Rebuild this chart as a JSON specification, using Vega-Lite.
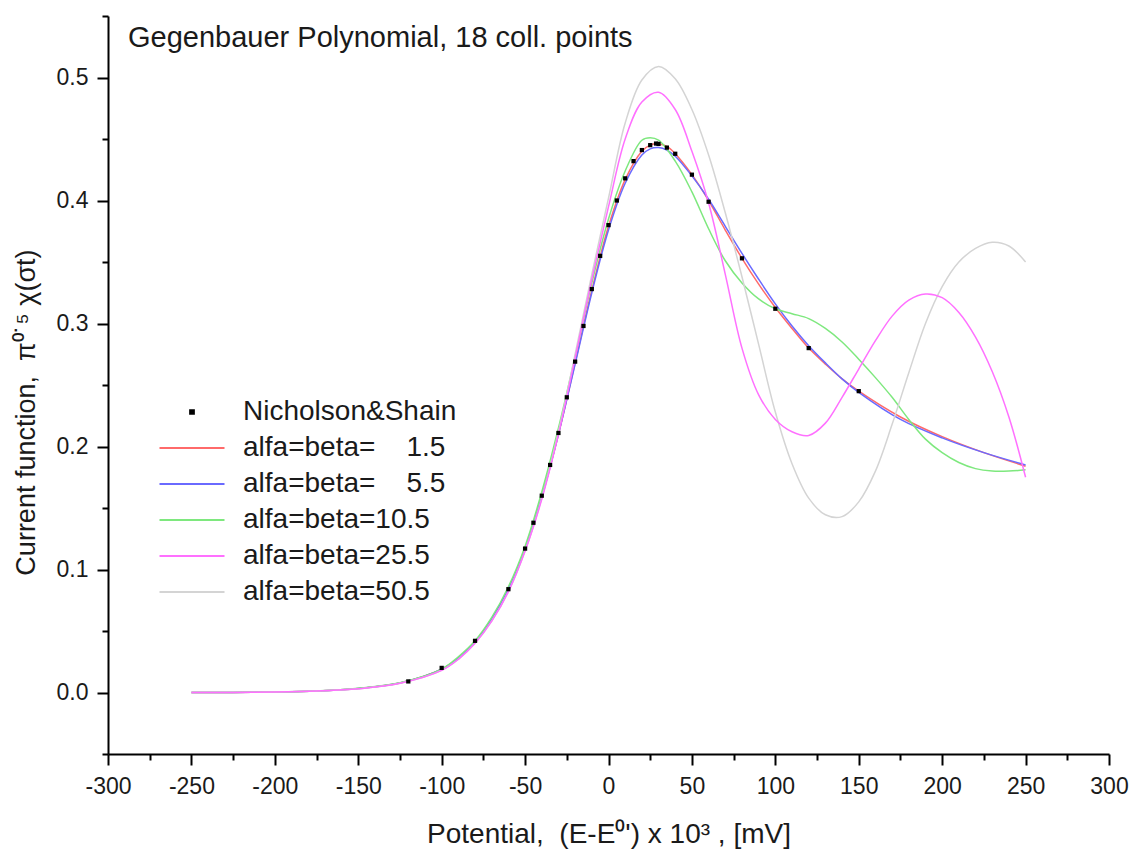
{
  "$schema": "https://vega.github.io/schema/vega-lite/v6.json",
  "width": 1001,
  "height": 738,
  "autosize": "none",
  "padding": {"left": 108, "top": 16, "right": 23, "bottom": 96},
  "background": "white",
  "view": {"stroke": null},
  "config": {"font": "Liberation Sans"},
  "datasets": {
    "ns": [
      {"series": "Nicholson&Shain", "x": -120, "y": 0.009},
      {"series": "Nicholson&Shain", "x": -100, "y": 0.020},
      {"series": "Nicholson&Shain", "x": -80, "y": 0.042},
      {"series": "Nicholson&Shain", "x": -60, "y": 0.084},
      {"series": "Nicholson&Shain", "x": -50, "y": 0.117},
      {"series": "Nicholson&Shain", "x": -45, "y": 0.138},
      {"series": "Nicholson&Shain", "x": -40, "y": 0.160},
      {"series": "Nicholson&Shain", "x": -35, "y": 0.185},
      {"series": "Nicholson&Shain", "x": -30, "y": 0.211},
      {"series": "Nicholson&Shain", "x": -25, "y": 0.240},
      {"series": "Nicholson&Shain", "x": -20, "y": 0.269},
      {"series": "Nicholson&Shain", "x": -15, "y": 0.298},
      {"series": "Nicholson&Shain", "x": -10, "y": 0.328},
      {"series": "Nicholson&Shain", "x": -5, "y": 0.355},
      {"series": "Nicholson&Shain", "x": 0, "y": 0.380},
      {"series": "Nicholson&Shain", "x": 5, "y": 0.400},
      {"series": "Nicholson&Shain", "x": 10, "y": 0.418},
      {"series": "Nicholson&Shain", "x": 15, "y": 0.432},
      {"series": "Nicholson&Shain", "x": 20, "y": 0.441},
      {"series": "Nicholson&Shain", "x": 25, "y": 0.445},
      {"series": "Nicholson&Shain", "x": 28.5, "y": 0.4463},
      {"series": "Nicholson&Shain", "x": 30, "y": 0.446},
      {"series": "Nicholson&Shain", "x": 35, "y": 0.443},
      {"series": "Nicholson&Shain", "x": 40, "y": 0.438},
      {"series": "Nicholson&Shain", "x": 50, "y": 0.421},
      {"series": "Nicholson&Shain", "x": 60, "y": 0.399},
      {"series": "Nicholson&Shain", "x": 80, "y": 0.353},
      {"series": "Nicholson&Shain", "x": 100, "y": 0.312},
      {"series": "Nicholson&Shain", "x": 120, "y": 0.280},
      {"series": "Nicholson&Shain", "x": 150, "y": 0.245}
    ],
    "curves": [
      {"series": "alfa=beta=  1.5", "x": -250, "y": 0},
      {"series": "alfa=beta=  1.5", "x": -225, "y": 0.0001},
      {"series": "alfa=beta=  1.5", "x": -200, "y": 0.0004},
      {"series": "alfa=beta=  1.5", "x": -175, "y": 0.0012},
      {"series": "alfa=beta=  1.5", "x": -150, "y": 0.0033},
      {"series": "alfa=beta=  1.5", "x": -125, "y": 0.0078},
      {"series": "alfa=beta=  1.5", "x": -100, "y": 0.019},
      {"series": "alfa=beta=  1.5", "x": -90, "y": 0.028},
      {"series": "alfa=beta=  1.5", "x": -80, "y": 0.041},
      {"series": "alfa=beta=  1.5", "x": -70, "y": 0.060},
      {"series": "alfa=beta=  1.5", "x": -60, "y": 0.084},
      {"series": "alfa=beta=  1.5", "x": -50, "y": 0.116},
      {"series": "alfa=beta=  1.5", "x": -40, "y": 0.159},
      {"series": "alfa=beta=  1.5", "x": -30, "y": 0.210},
      {"series": "alfa=beta=  1.5", "x": -20, "y": 0.268},
      {"series": "alfa=beta=  1.5", "x": -10, "y": 0.327},
      {"series": "alfa=beta=  1.5", "x": 0, "y": 0.379},
      {"series": "alfa=beta=  1.5", "x": 10, "y": 0.417},
      {"series": "alfa=beta=  1.5", "x": 20, "y": 0.440},
      {"series": "alfa=beta=  1.5", "x": 25, "y": 0.445},
      {"series": "alfa=beta=  1.5", "x": 30, "y": 0.446},
      {"series": "alfa=beta=  1.5", "x": 35, "y": 0.444},
      {"series": "alfa=beta=  1.5", "x": 40, "y": 0.438},
      {"series": "alfa=beta=  1.5", "x": 50, "y": 0.421},
      {"series": "alfa=beta=  1.5", "x": 60, "y": 0.400},
      {"series": "alfa=beta=  1.5", "x": 70, "y": 0.376},
      {"series": "alfa=beta=  1.5", "x": 80, "y": 0.353},
      {"series": "alfa=beta=  1.5", "x": 90, "y": 0.332},
      {"series": "alfa=beta=  1.5", "x": 100, "y": 0.313},
      {"series": "alfa=beta=  1.5", "x": 110, "y": 0.296},
      {"series": "alfa=beta=  1.5", "x": 120, "y": 0.280},
      {"series": "alfa=beta=  1.5", "x": 130, "y": 0.267},
      {"series": "alfa=beta=  1.5", "x": 140, "y": 0.255},
      {"series": "alfa=beta=  1.5", "x": 150, "y": 0.245},
      {"series": "alfa=beta=  1.5", "x": 175, "y": 0.224},
      {"series": "alfa=beta=  1.5", "x": 200, "y": 0.208},
      {"series": "alfa=beta=  1.5", "x": 225, "y": 0.195},
      {"series": "alfa=beta=  1.5", "x": 250, "y": 0.184},

      {"series": "alfa=beta=  5.5", "x": -250, "y": 0},
      {"series": "alfa=beta=  5.5", "x": -225, "y": 0.0001},
      {"series": "alfa=beta=  5.5", "x": -200, "y": 0.0004},
      {"series": "alfa=beta=  5.5", "x": -175, "y": 0.0012},
      {"series": "alfa=beta=  5.5", "x": -150, "y": 0.0033},
      {"series": "alfa=beta=  5.5", "x": -125, "y": 0.0078},
      {"series": "alfa=beta=  5.5", "x": -100, "y": 0.019},
      {"series": "alfa=beta=  5.5", "x": -90, "y": 0.028},
      {"series": "alfa=beta=  5.5", "x": -80, "y": 0.041},
      {"series": "alfa=beta=  5.5", "x": -70, "y": 0.060},
      {"series": "alfa=beta=  5.5", "x": -60, "y": 0.084},
      {"series": "alfa=beta=  5.5", "x": -50, "y": 0.116},
      {"series": "alfa=beta=  5.5", "x": -40, "y": 0.159},
      {"series": "alfa=beta=  5.5", "x": -30, "y": 0.210},
      {"series": "alfa=beta=  5.5", "x": -20, "y": 0.267},
      {"series": "alfa=beta=  5.5", "x": -10, "y": 0.325},
      {"series": "alfa=beta=  5.5", "x": 0, "y": 0.376},
      {"series": "alfa=beta=  5.5", "x": 10, "y": 0.414},
      {"series": "alfa=beta=  5.5", "x": 20, "y": 0.437},
      {"series": "alfa=beta=  5.5", "x": 25, "y": 0.442},
      {"series": "alfa=beta=  5.5", "x": 30, "y": 0.443},
      {"series": "alfa=beta=  5.5", "x": 35, "y": 0.441},
      {"series": "alfa=beta=  5.5", "x": 40, "y": 0.436},
      {"series": "alfa=beta=  5.5", "x": 50, "y": 0.420},
      {"series": "alfa=beta=  5.5", "x": 60, "y": 0.401},
      {"series": "alfa=beta=  5.5", "x": 70, "y": 0.379},
      {"series": "alfa=beta=  5.5", "x": 80, "y": 0.357},
      {"series": "alfa=beta=  5.5", "x": 90, "y": 0.336},
      {"series": "alfa=beta=  5.5", "x": 100, "y": 0.316},
      {"series": "alfa=beta=  5.5", "x": 110, "y": 0.298},
      {"series": "alfa=beta=  5.5", "x": 120, "y": 0.282},
      {"series": "alfa=beta=  5.5", "x": 130, "y": 0.268},
      {"series": "alfa=beta=  5.5", "x": 140, "y": 0.255},
      {"series": "alfa=beta=  5.5", "x": 150, "y": 0.244},
      {"series": "alfa=beta=  5.5", "x": 175, "y": 0.222},
      {"series": "alfa=beta=  5.5", "x": 200, "y": 0.207},
      {"series": "alfa=beta=  5.5", "x": 225, "y": 0.195},
      {"series": "alfa=beta=  5.5", "x": 250, "y": 0.185},

      {"series": "alfa=beta=10.5", "x": -250, "y": 0},
      {"series": "alfa=beta=10.5", "x": -225, "y": 0.0001},
      {"series": "alfa=beta=10.5", "x": -200, "y": 0.0004},
      {"series": "alfa=beta=10.5", "x": -175, "y": 0.0013},
      {"series": "alfa=beta=10.5", "x": -150, "y": 0.0035},
      {"series": "alfa=beta=10.5", "x": -125, "y": 0.008},
      {"series": "alfa=beta=10.5", "x": -100, "y": 0.019},
      {"series": "alfa=beta=10.5", "x": -90, "y": 0.029},
      {"series": "alfa=beta=10.5", "x": -80, "y": 0.042},
      {"series": "alfa=beta=10.5", "x": -70, "y": 0.061},
      {"series": "alfa=beta=10.5", "x": -60, "y": 0.086},
      {"series": "alfa=beta=10.5", "x": -50, "y": 0.119},
      {"series": "alfa=beta=10.5", "x": -40, "y": 0.163},
      {"series": "alfa=beta=10.5", "x": -30, "y": 0.215},
      {"series": "alfa=beta=10.5", "x": -20, "y": 0.273},
      {"series": "alfa=beta=10.5", "x": -10, "y": 0.333},
      {"series": "alfa=beta=10.5", "x": 0, "y": 0.385},
      {"series": "alfa=beta=10.5", "x": 10, "y": 0.424},
      {"series": "alfa=beta=10.5", "x": 20, "y": 0.449},
      {"series": "alfa=beta=10.5", "x": 25, "y": 0.451},
      {"series": "alfa=beta=10.5", "x": 30, "y": 0.449},
      {"series": "alfa=beta=10.5", "x": 40, "y": 0.432},
      {"series": "alfa=beta=10.5", "x": 50, "y": 0.407},
      {"series": "alfa=beta=10.5", "x": 60, "y": 0.377},
      {"series": "alfa=beta=10.5", "x": 70, "y": 0.351},
      {"series": "alfa=beta=10.5", "x": 80, "y": 0.333},
      {"series": "alfa=beta=10.5", "x": 90, "y": 0.320},
      {"series": "alfa=beta=10.5", "x": 100, "y": 0.312},
      {"series": "alfa=beta=10.5", "x": 110, "y": 0.308},
      {"series": "alfa=beta=10.5", "x": 120, "y": 0.304},
      {"series": "alfa=beta=10.5", "x": 130, "y": 0.296},
      {"series": "alfa=beta=10.5", "x": 140, "y": 0.285},
      {"series": "alfa=beta=10.5", "x": 150, "y": 0.271},
      {"series": "alfa=beta=10.5", "x": 160, "y": 0.256},
      {"series": "alfa=beta=10.5", "x": 170, "y": 0.240},
      {"series": "alfa=beta=10.5", "x": 180, "y": 0.222},
      {"series": "alfa=beta=10.5", "x": 190, "y": 0.206},
      {"series": "alfa=beta=10.5", "x": 200, "y": 0.195},
      {"series": "alfa=beta=10.5", "x": 210, "y": 0.187},
      {"series": "alfa=beta=10.5", "x": 220, "y": 0.182},
      {"series": "alfa=beta=10.5", "x": 230, "y": 0.180},
      {"series": "alfa=beta=10.5", "x": 240, "y": 0.180},
      {"series": "alfa=beta=10.5", "x": 250, "y": 0.181},

      {"series": "alfa=beta=50.5", "x": -250, "y": 0},
      {"series": "alfa=beta=50.5", "x": -225, "y": 0.0001},
      {"series": "alfa=beta=50.5", "x": -200, "y": 0.0004},
      {"series": "alfa=beta=50.5", "x": -175, "y": 0.0012},
      {"series": "alfa=beta=50.5", "x": -150, "y": 0.003},
      {"series": "alfa=beta=50.5", "x": -125, "y": 0.0075},
      {"series": "alfa=beta=50.5", "x": -100, "y": 0.018},
      {"series": "alfa=beta=50.5", "x": -90, "y": 0.027},
      {"series": "alfa=beta=50.5", "x": -80, "y": 0.040},
      {"series": "alfa=beta=50.5", "x": -70, "y": 0.058},
      {"series": "alfa=beta=50.5", "x": -60, "y": 0.082},
      {"series": "alfa=beta=50.5", "x": -50, "y": 0.115},
      {"series": "alfa=beta=50.5", "x": -40, "y": 0.158},
      {"series": "alfa=beta=50.5", "x": -30, "y": 0.212},
      {"series": "alfa=beta=50.5", "x": -20, "y": 0.275},
      {"series": "alfa=beta=50.5", "x": -10, "y": 0.340},
      {"series": "alfa=beta=50.5", "x": 0, "y": 0.402},
      {"series": "alfa=beta=50.5", "x": 10, "y": 0.463},
      {"series": "alfa=beta=50.5", "x": 20, "y": 0.498},
      {"series": "alfa=beta=50.5", "x": 30, "y": 0.509},
      {"series": "alfa=beta=50.5", "x": 40, "y": 0.499},
      {"series": "alfa=beta=50.5", "x": 50, "y": 0.474},
      {"series": "alfa=beta=50.5", "x": 60, "y": 0.437},
      {"series": "alfa=beta=50.5", "x": 70, "y": 0.390},
      {"series": "alfa=beta=50.5", "x": 80, "y": 0.338},
      {"series": "alfa=beta=50.5", "x": 90, "y": 0.283},
      {"series": "alfa=beta=50.5", "x": 100, "y": 0.228},
      {"series": "alfa=beta=50.5", "x": 110, "y": 0.186},
      {"series": "alfa=beta=50.5", "x": 120, "y": 0.158},
      {"series": "alfa=beta=50.5", "x": 130, "y": 0.1445},
      {"series": "alfa=beta=50.5", "x": 140, "y": 0.143},
      {"series": "alfa=beta=50.5", "x": 150, "y": 0.155},
      {"series": "alfa=beta=50.5", "x": 160, "y": 0.180},
      {"series": "alfa=beta=50.5", "x": 170, "y": 0.218},
      {"series": "alfa=beta=50.5", "x": 180, "y": 0.260},
      {"series": "alfa=beta=50.5", "x": 190, "y": 0.300},
      {"series": "alfa=beta=50.5", "x": 200, "y": 0.330},
      {"series": "alfa=beta=50.5", "x": 210, "y": 0.350},
      {"series": "alfa=beta=50.5", "x": 220, "y": 0.361},
      {"series": "alfa=beta=50.5", "x": 230, "y": 0.366},
      {"series": "alfa=beta=50.5", "x": 240, "y": 0.363},
      {"series": "alfa=beta=50.5", "x": 250, "y": 0.350},

      {"series": "alfa=beta=25.5", "x": -250, "y": 0},
      {"series": "alfa=beta=25.5", "x": -225, "y": 0.0001},
      {"series": "alfa=beta=25.5", "x": -200, "y": 0.0004},
      {"series": "alfa=beta=25.5", "x": -175, "y": 0.0012},
      {"series": "alfa=beta=25.5", "x": -150, "y": 0.003},
      {"series": "alfa=beta=25.5", "x": -125, "y": 0.0075},
      {"series": "alfa=beta=25.5", "x": -100, "y": 0.018},
      {"series": "alfa=beta=25.5", "x": -90, "y": 0.027},
      {"series": "alfa=beta=25.5", "x": -80, "y": 0.040},
      {"series": "alfa=beta=25.5", "x": -70, "y": 0.058},
      {"series": "alfa=beta=25.5", "x": -60, "y": 0.082},
      {"series": "alfa=beta=25.5", "x": -50, "y": 0.115},
      {"series": "alfa=beta=25.5", "x": -40, "y": 0.157},
      {"series": "alfa=beta=25.5", "x": -30, "y": 0.210},
      {"series": "alfa=beta=25.5", "x": -20, "y": 0.272},
      {"series": "alfa=beta=25.5", "x": -10, "y": 0.336},
      {"series": "alfa=beta=25.5", "x": 0, "y": 0.395},
      {"series": "alfa=beta=25.5", "x": 10, "y": 0.450},
      {"series": "alfa=beta=25.5", "x": 20, "y": 0.480},
      {"series": "alfa=beta=25.5", "x": 30, "y": 0.488},
      {"series": "alfa=beta=25.5", "x": 40, "y": 0.474},
      {"series": "alfa=beta=25.5", "x": 50, "y": 0.440},
      {"series": "alfa=beta=25.5", "x": 60, "y": 0.398},
      {"series": "alfa=beta=25.5", "x": 70, "y": 0.340},
      {"series": "alfa=beta=25.5", "x": 80, "y": 0.280},
      {"series": "alfa=beta=25.5", "x": 90, "y": 0.242},
      {"series": "alfa=beta=25.5", "x": 100, "y": 0.222},
      {"series": "alfa=beta=25.5", "x": 110, "y": 0.212},
      {"series": "alfa=beta=25.5", "x": 120, "y": 0.209},
      {"series": "alfa=beta=25.5", "x": 130, "y": 0.219},
      {"series": "alfa=beta=25.5", "x": 140, "y": 0.240},
      {"series": "alfa=beta=25.5", "x": 150, "y": 0.263},
      {"series": "alfa=beta=25.5", "x": 160, "y": 0.286},
      {"series": "alfa=beta=25.5", "x": 170, "y": 0.306},
      {"series": "alfa=beta=25.5", "x": 180, "y": 0.319},
      {"series": "alfa=beta=25.5", "x": 190, "y": 0.324},
      {"series": "alfa=beta=25.5", "x": 200, "y": 0.321},
      {"series": "alfa=beta=25.5", "x": 210, "y": 0.309},
      {"series": "alfa=beta=25.5", "x": 220, "y": 0.289},
      {"series": "alfa=beta=25.5", "x": 230, "y": 0.261},
      {"series": "alfa=beta=25.5", "x": 240, "y": 0.224},
      {"series": "alfa=beta=25.5", "x": 250, "y": 0.175}
    ]
  },
  "encoding": {
    "x": {
      "field": "x",
      "type": "quantitative",
      "scale": {"domain": [-300, 300], "nice": false, "zero": false},
      "axis": {
        "title": "Potential,\u00a0\u00a0(E-E⁰') x 10³ , [mV]",
        "values": [-300, -275, -250, -225, -200, -175, -150, -125, -100, -75, -50, -25, 0, 25, 50, 75, 100, 125, 150, 175, 200, 225, 250, 275, 300],
        "labelExpr": "datum.value % 50 == 0 ? '' + datum.value : ''",
        "tickSize": {"condition": {"test": "datum.value % 50 == 0", "value": 11}, "value": 6},
        "grid": false,
        "domainColor": "#000",
        "domainWidth": 2,
        "tickColor": "#000",
        "tickWidth": 2,
        "labelFont": "Liberation Sans",
        "labelFontSize": 23,
        "labelColor": "#1a1a1a",
        "labelPadding": 10,
        "labelFlush": false,
        "labelOverlap": false,
        "titleFont": "Liberation Sans",
        "titleFontSize": 28,
        "titleFontWeight": "normal",
        "titleColor": "#1a1a1a",
        "titlePadding": 22
      }
    },
    "y": {
      "field": "y",
      "type": "quantitative",
      "scale": {"domain": [-0.05, 0.55], "nice": false, "zero": false},
      "axis": {
        "title": "Current function,\u00a0\u00a0π⁰˙⁵ χ(σt)",
        "values": [-0.05, 0, 0.05, 0.1, 0.15, 0.2, 0.25, 0.3, 0.35, 0.4, 0.45, 0.5, 0.55],
        "labelExpr": "abs(datum.value * 10 - round(datum.value * 10)) < 0.01 ? format(datum.value, '.1f') : ''",
        "tickSize": {"condition": {"test": "abs(datum.value * 10 - round(datum.value * 10)) < 0.01", "value": 11}, "value": 6},
        "grid": false,
        "domainColor": "#000",
        "domainWidth": 2,
        "tickColor": "#000",
        "tickWidth": 2,
        "labelFont": "Liberation Sans",
        "labelFontSize": 23,
        "labelColor": "#1a1a1a",
        "labelPadding": 9,
        "labelFlush": false,
        "labelOverlap": false,
        "titleFont": "Liberation Sans",
        "titleFontSize": 27,
        "titleFontWeight": "normal",
        "titleColor": "#1a1a1a",
        "titlePadding": 16,
        "titleY": 396
      }
    }
  },
  "layer": [
    {
      "data": {"name": "curves"},
      "mark": {"type": "line", "interpolate": "catmull-rom", "strokeWidth": 1.5},
      "encoding": {
        "color": {
          "field": "series",
          "type": "nominal",
          "sort": null,
          "scale": {
            "domain": ["Nicholson&Shain", "alfa=beta=  1.5", "alfa=beta=  5.5", "alfa=beta=10.5", "alfa=beta=25.5", "alfa=beta=50.5"],
            "range": ["#000000", "#ff6a6a", "#6a6aff", "#7ee87e", "#ff70ff", "#d4d4d4"]
          },
          "legend": {
            "title": null,
            "orient": "none",
            "legendX": 70,
            "legendY": 382,
            "padding": 0,
            "labelFont": "Liberation Sans",
            "labelFontSize": 28,
            "labelColor": "#1a1a1a",
            "labelExpr": "replace(datum.label, '  ', '\u00a0\u00a0\u00a0\u00a0')",
            "labelOffset": 37,
            "labelLimit": 400,
            "rowPadding": 8,
            "symbolSize": 100,
            "symbolType": "M-6.5,0H6.5",
            "symbolStrokeWidth": 2,
            "encode": {
              "symbols": {
                "update": {
                  "shape": {"signal": "datum.value === 'Nicholson&Shain' ? 'square' : 'M-6.5,0H6.5'"},
                  "size": {"signal": "datum.value === 'Nicholson&Shain' ? 14 : 100"},
                  "fill": {"signal": "datum.value === 'Nicholson&Shain' ? '#000000' : 'transparent'"},
                  "stroke": {"signal": "datum.value === 'Nicholson&Shain' ? 'transparent' : scale('color', datum.value)"},
                  "strokeWidth": {"value": 2},
                  "opacity": {"value": 1}
                }
              }
            }
          }
        }
      }
    },
    {
      "data": {"name": "ns"},
      "mark": {"type": "square", "size": 18, "filled": true, "opacity": 1},
      "encoding": {
        "color": {"field": "series", "type": "nominal", "sort": null}
      }
    },
    {
      "data": {"values": [{"label": "Gegenbauer Polynomial, 18 coll. points", "x": -288, "y": 0.5245}]},
      "mark": {"type": "text", "align": "left", "baseline": "alphabetic", "fontSize": 29, "font": "Liberation Sans", "color": "#1a1a1a"},
      "encoding": {
        "text": {"field": "label"}
      }
    }
  ]
}
